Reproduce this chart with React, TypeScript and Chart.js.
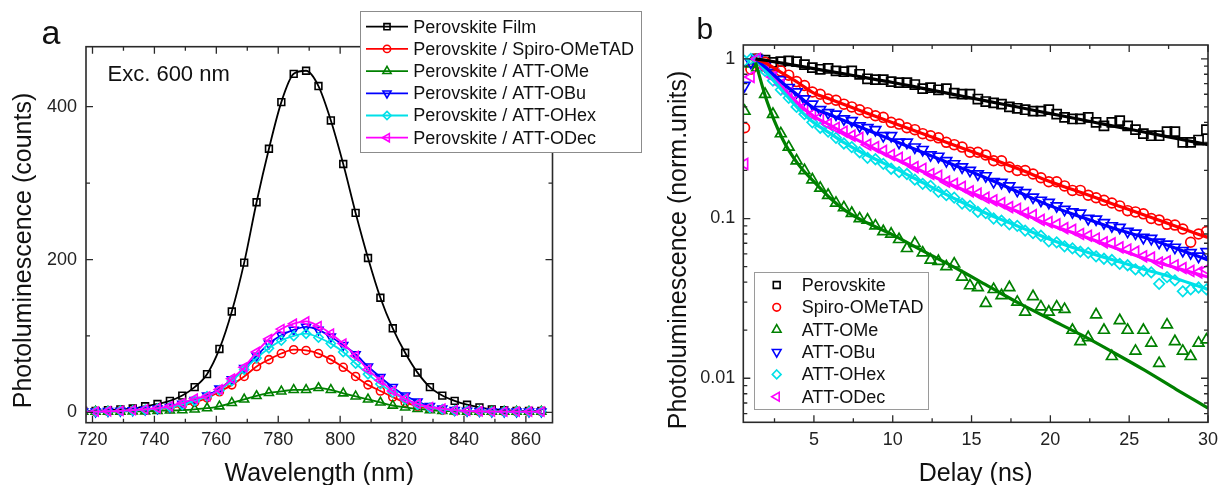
import React, { useEffect, useRef } from 'react';
import { Chart, registerables } from 'chart.js';

Chart.register(...registerables);

const FONT = '"Liberation Sans", Arial, Helvetica, sans-serif';

// ---------------- Panel a : steady-state photoluminescence ----------------
const WAVELENGTH = [717, 721, 725, 729, 733, 737, 741, 745, 749, 753, 757, 761, 765, 769, 773, 777, 781, 785, 789, 793, 797, 801, 805, 809, 813, 817, 821, 825, 829, 833, 837, 841, 845, 849, 853, 857, 861, 865];
const PL_FILM = [2, 2, 3, 4, 5, 8, 11, 15, 22, 33, 50, 83, 132, 196, 275, 345, 406, 443, 447, 427, 382, 325, 261, 202, 150, 110, 78, 52, 33, 22, 15, 10, 6.5, 4, 3, 2, 2, 2];
const PL_SPIRO = [1, 1, 1.5, 2, 2.5, 3, 4, 6, 9, 13, 19, 27, 36, 47, 60, 69, 77, 82, 81, 77, 69, 59, 47, 36, 28, 20, 13, 8, 5, 3, 2, 1.5, 1, 1, 1, 1, 1, 1];
const PL_OME = [1, 1, 1, 1, 1.5, 1.5, 2, 2.5, 3, 4, 5.5, 8, 12.5, 17, 21.5, 25.5, 27.5, 29.5, 29.5, 32, 29.5, 25, 21, 17, 13, 9, 6.6, 4.5, 3, 2, 1.5, 1, 1, 1, 1, 1, 1, 1];
const PL_OBU = [1, 1, 1.5, 2, 2.5, 3.5, 5, 7, 11, 16, 22, 31, 43, 58, 74, 90, 101, 108, 112, 108, 99, 88, 76, 60, 46, 33, 22, 14, 8, 5, 3, 2, 1.5, 1, 1, 1, 1, 1];
const PL_OHEX = [1, 1, 1.5, 2, 2.5, 3.5, 5, 7, 10, 15, 21, 29, 41, 56, 71, 84, 94, 100, 103, 98, 90, 79, 64, 50, 37, 26, 17, 10, 6, 4, 2.5, 2, 1.5, 1, 1, 1, 1, 1];
const PL_ODEC = [1, 1, 1.5, 2, 3, 4, 5.5, 8, 12, 18, 21, 30, 44, 59, 79, 96, 109, 116, 119, 113, 103, 90, 74, 56, 42, 28, 18, 11, 7, 5, 3, 2, 1.5, 1, 1, 1, 1, 1];

const A_X_TICKS = [720, 740, 760, 780, 800, 820, 840, 860];
const A_X_MINOR = [730, 750, 770, 790, 810, 830, 850];
const A_Y_TICKS = [0, 200, 400];
const A_Y_MINOR = [100, 300];

// ---------------- Panel b : time-resolved photoluminescence ----------------
const DELAY = [0.6, 1.0, 1.4, 1.9, 2.4, 2.9, 3.4, 3.9, 4.4, 4.9, 5.4, 5.9, 6.4, 6.9, 7.4, 7.9, 8.4, 8.9, 9.4, 9.9, 10.4, 10.9, 11.4, 11.9, 12.4, 12.9, 13.4, 13.9, 14.4, 14.9, 15.4, 15.9, 16.4, 16.9, 17.4, 17.9, 18.4, 18.9, 19.4, 19.9, 20.4, 20.9, 21.4, 21.9, 22.4, 22.9, 23.4, 23.9, 24.4, 24.9, 25.4, 25.9, 26.4, 26.9, 27.4, 27.9, 28.4, 28.9, 29.4, 29.9];
const TR_PEROVSKITE = [null, null, 1.0, 0.98, 0.95, 0.96, 0.97, 0.96, 0.92, 0.88, 0.86, 0.87, 0.84, 0.83, 0.84, 0.80, 0.75, 0.74, 0.74, 0.72, 0.71, 0.71, 0.69, 0.65, 0.66, 0.64, 0.65, 0.61, 0.60, 0.60, 0.56, 0.54, 0.53, 0.52, 0.50, 0.49, 0.48, 0.47, 0.47, 0.48, 0.45, 0.43, 0.42, 0.42, 0.43, 0.40, 0.38, 0.40, 0.41, 0.38, 0.36, 0.34, 0.33, 0.33, 0.35, 0.35, 0.30, 0.30, 0.31, 0.36];
const TR_SPIRO = [0.37, 0.86, 1.0, 0.95, 0.90, 0.84, 0.79, 0.72, 0.68, 0.62, 0.60, 0.56, 0.55, 0.52, 0.50, 0.48, 0.46, 0.44, 0.43, 0.40, 0.39, 0.37, 0.36, 0.34, 0.33, 0.32, 0.30, 0.29, 0.28, 0.26, 0.26, 0.25, 0.23, 0.23, 0.21, 0.20, 0.20, 0.19, 0.18, 0.17, 0.17, 0.16, 0.15, 0.15, 0.14, 0.135, 0.13, 0.125, 0.12, 0.112, 0.11, 0.107, 0.10, 0.098, 0.092, 0.091, 0.086, 0.071, 0.08, 0.083];
const TR_OME = [0.47, 0.93, 0.88, 0.60, 0.45, 0.34, 0.28, 0.23, 0.20, 0.175, 0.155, 0.14, 0.125, 0.117, 0.108, 0.10, 0.098, 0.09, 0.083, 0.080, 0.074, 0.065, 0.070, 0.061, 0.055, 0.054, 0.050, 0.052, 0.043, 0.038, 0.037, 0.0295, 0.036, 0.033, 0.037, 0.030, 0.026, 0.0325, 0.028, 0.026, 0.028, 0.027, 0.020, 0.017, 0.018, 0.025, 0.020, 0.0137, 0.023, 0.020, 0.0148, 0.020, 0.0166, 0.0124, 0.0216, 0.017, 0.0148, 0.0137, 0.0166, 0.0174];
const TR_OBU = [0.68, 0.95, 1.0, 0.90, 0.82, 0.74, 0.66, 0.62, 0.56, 0.52, 0.48, 0.46, 0.45, 0.42, 0.41, 0.38, 0.37, 0.36, 0.33, 0.33, 0.30, 0.30, 0.28, 0.27, 0.25, 0.245, 0.23, 0.22, 0.21, 0.20, 0.19, 0.185, 0.17, 0.168, 0.16, 0.15, 0.145, 0.136, 0.13, 0.126, 0.12, 0.114, 0.11, 0.108, 0.10, 0.099, 0.094, 0.09, 0.088, 0.083, 0.081, 0.076, 0.075, 0.071, 0.069, 0.066, 0.063, 0.061, 0.058, 0.062];
const TR_OHEX = [0.97, 1.0, 0.99, 0.84, 0.73, 0.64, 0.57, 0.50, 0.45, 0.40, 0.37, 0.35, 0.32, 0.295, 0.28, 0.26, 0.24, 0.235, 0.22, 0.205, 0.195, 0.19, 0.175, 0.165, 0.16, 0.147, 0.14, 0.135, 0.124, 0.12, 0.11, 0.108, 0.10, 0.097, 0.092, 0.09, 0.084, 0.081, 0.078, 0.072, 0.071, 0.067, 0.065, 0.062, 0.061, 0.058, 0.056, 0.055, 0.052, 0.051, 0.048, 0.047, 0.046, 0.039, 0.043, 0.041, 0.035, 0.036, 0.037, 0.036];
const TR_ODEC = [0.22, 0.77, 1.0, 0.88, 0.77, 0.69, 0.61, 0.55, 0.50, 0.45, 0.43, 0.39, 0.37, 0.35, 0.33, 0.32, 0.29, 0.28, 0.265, 0.25, 0.24, 0.225, 0.21, 0.205, 0.19, 0.185, 0.17, 0.165, 0.158, 0.148, 0.143, 0.135, 0.13, 0.125, 0.118, 0.115, 0.108, 0.105, 0.098, 0.095, 0.092, 0.087, 0.085, 0.08, 0.078, 0.075, 0.071, 0.07, 0.066, 0.064, 0.062, 0.058, 0.057, 0.053, 0.054, 0.051, 0.049, 0.047, 0.046, 0.048];

const FIT_DELAY = [1.3, 2, 3, 4, 5, 6, 7, 8, 10, 12, 14, 16, 18, 20, 22, 24, 26, 28, 30];
const FIT_PEROVSKITE = [1, 0.976, 0.939, 0.902, 0.867, 0.834, 0.801, 0.77, 0.711, 0.65, 0.594, 0.543, 0.497, 0.454, 0.415, 0.379, 0.347, 0.317, 0.29];
const FIT_SPIRO = [1, 0.933, 0.813, 0.708, 0.61, 0.56, 0.513, 0.471, 0.398, 0.337, 0.286, 0.242, 0.204, 0.17, 0.145, 0.123, 0.105, 0.089, 0.076];
const FIT_OME = [0.95, 0.55, 0.316, 0.219, 0.17, 0.135, 0.112, 0.098, 0.079, 0.062, 0.049, 0.038, 0.0295, 0.0234, 0.0186, 0.0145, 0.0112, 0.0085, 0.0065];
const FIT_OBU = [1, 0.871, 0.708, 0.589, 0.49, 0.447, 0.407, 0.372, 0.309, 0.257, 0.214, 0.178, 0.146, 0.12, 0.102, 0.087, 0.076, 0.065, 0.055];
const FIT_OHEX = [1, 0.822, 0.631, 0.49, 0.398, 0.343, 0.295, 0.26, 0.209, 0.166, 0.132, 0.107, 0.089, 0.074, 0.063, 0.055, 0.048, 0.042, 0.036];
const FIT_ODEC = [1, 0.841, 0.661, 0.525, 0.437, 0.385, 0.339, 0.302, 0.24, 0.195, 0.158, 0.132, 0.11, 0.091, 0.078, 0.066, 0.056, 0.049, 0.043];

const B_X_TICKS = [5, 10, 15, 20, 25, 30];
const B_X_MINOR = [2.5, 7.5, 12.5, 17.5, 22.5, 27.5];
const B_Y_TICKS = [0.01, 0.1, 1];
const B_Y_MINOR = [0.006, 0.007, 0.008, 0.009, 0.02, 0.03, 0.04, 0.05, 0.06, 0.07, 0.08, 0.09, 0.2, 0.3, 0.4, 0.5, 0.6, 0.7, 0.8, 0.9];

// ---------------- names & styles ----------------
const LEGEND_A = ['Perovskite Film', 'Perovskite / Spiro-OMeTAD', 'Perovskite / ATT-OMe', 'Perovskite / ATT-OBu', 'Perovskite / ATT-OHex', 'Perovskite / ATT-ODec'];
const LEGEND_B = ['Perovskite', 'Spiro-OMeTAD', 'ATT-OMe', 'ATT-OBu', 'ATT-OHex', 'ATT-ODec'];
const COLORS = ['#000000', '#ff0000', '#008000', '#0000ff', '#00e0e8', '#ff00ff'];
const POINT_STYLES = ['rect', 'circle', 'triangle', 'triangle', 'rectRot', 'triangle'];
const POINT_ROT = [0, 0, 0, 180, 0, 270];
const A_RADIUS = [4.8, 4, 5.2, 5.2, 4.6, 5.2];
const B_RADIUS = [6.4, 4.9, 6.2, 6.2, 5.2, 6.2];
const B_LEG_RADIUS = [4.8, 3.8, 5, 5, 4.4, 5];

const A_SERIES = [PL_FILM, PL_SPIRO, PL_OME, PL_OBU, PL_OHEX, PL_ODEC];
const B_SERIES = [TR_PEROVSKITE, TR_SPIRO, TR_OME, TR_OBU, TR_OHEX, TR_ODEC];
const B_FITS = [FIT_PEROVSKITE, FIT_SPIRO, FIT_OME, FIT_OBU, FIT_OHEX, FIT_ODEC];

function drawMarker(ctx: CanvasRenderingContext2D, style: string, rot: number, x: number, y: number, r: number, color: string, lw: number) {
  ctx.save();
  ctx.strokeStyle = color;
  ctx.lineWidth = lw;
  ctx.beginPath();
  if (style === 'rect') {
    const s = r * Math.SQRT1_2;
    ctx.rect(x - s, y - s, 2 * s, 2 * s);
  } else if (style === 'circle') {
    ctx.arc(x, y, r, 0, Math.PI * 2);
  } else if (style === 'rectRot') {
    ctx.moveTo(x, y - r);
    ctx.lineTo(x + r, y);
    ctx.lineTo(x, y + r);
    ctx.lineTo(x - r, y);
    ctx.closePath();
  } else {
    let a = (rot * Math.PI) / 180;
    ctx.moveTo(x + Math.sin(a) * r, y - Math.cos(a) * r);
    a += (2 * Math.PI) / 3;
    ctx.lineTo(x + Math.sin(a) * r, y - Math.cos(a) * r);
    a += (2 * Math.PI) / 3;
    ctx.lineTo(x + Math.sin(a) * r, y - Math.cos(a) * r);
    ctx.closePath();
  }
  ctx.stroke();
  ctx.restore();
}

function frameTicksPlugin(xMaj: number[], xMin: number[], yMaj: number[], yMin: number[]) {
  return {
    id: 'frameTicks',
    afterDatasetsDraw(chart: any) {
      const { ctx, chartArea: a } = chart;
      const xs = chart.scales.x;
      const ys = chart.scales.y;
      ctx.save();
      ctx.strokeStyle = '#2a2a2a';
      ctx.lineWidth = 1.3;
      ctx.beginPath();
      const xt = (vals: number[], len: number) => {
        for (const v of vals) {
          const p = xs.getPixelForValue(v);
          if (p < a.left - 0.5 || p > a.right + 0.5) continue;
          ctx.moveTo(p, a.bottom);
          ctx.lineTo(p, a.bottom - len);
          ctx.moveTo(p, a.top);
          ctx.lineTo(p, a.top + len);
        }
      };
      const yt = (vals: number[], len: number) => {
        for (const v of vals) {
          const p = ys.getPixelForValue(v);
          if (p < a.top - 0.5 || p > a.bottom + 0.5) continue;
          ctx.moveTo(a.left, p);
          ctx.lineTo(a.left + len, p);
          ctx.moveTo(a.right, p);
          ctx.lineTo(a.right - len, p);
        }
      };
      xt(xMaj, 7);
      xt(xMin, 4);
      yt(yMaj, 7);
      yt(yMin, 4);
      ctx.stroke();
      ctx.lineWidth = 1.6;
      ctx.strokeRect(a.left, a.top, a.right - a.left, a.bottom - a.top);
      ctx.restore();
    },
  };
}

const decoA = {
  id: 'decoA',
  afterDraw(chart: any) {
    const { ctx, chartArea: a } = chart;
    ctx.save();
    ctx.fillStyle = '#111';
    ctx.textBaseline = 'alphabetic';
    ctx.textAlign = 'center';
    ctx.font = `25px ${FONT}`;
    ctx.fillText('Wavelength (nm)', (a.left + a.right) / 2, 481);
    ctx.save();
    ctx.translate(31, 250.5);
    ctx.rotate(-Math.PI / 2);
    ctx.fillText('Photoluminescence (counts)', 0, 0);
    ctx.restore();
    ctx.textAlign = 'left';
    ctx.font = `34px ${FONT}`;
    ctx.fillText('a', 41.5, 43.5);
    ctx.font = `22px ${FONT}`;
    ctx.fillText('Exc. 600 nm', 107.5, 81);
    // legend
    ctx.fillStyle = '#ffffff';
    ctx.fillRect(360.5, 11.5, 281, 141);
    ctx.strokeStyle = '#8c8c8c';
    ctx.lineWidth = 1;
    ctx.strokeRect(360.5, 11.5, 281, 141);
    ctx.font = `18px ${FONT}`;
    ctx.textBaseline = 'middle';
    for (let i = 0; i < LEGEND_A.length; i++) {
      const y = 26.7 + i * 22.2;
      ctx.strokeStyle = COLORS[i];
      ctx.lineWidth = 1.8;
      ctx.beginPath();
      ctx.moveTo(366, y);
      ctx.lineTo(408, y);
      ctx.stroke();
      drawMarker(ctx, POINT_STYLES[i], POINT_ROT[i], 387, y, A_RADIUS[i] * 0.9, COLORS[i], 1.6);
      ctx.fillStyle = '#111';
      ctx.fillText(LEGEND_A[i], 413.3, y + 1);
    }
    ctx.restore();
  },
};

const decoB = {
  id: 'decoB',
  afterDraw(chart: any) {
    const { ctx, chartArea: a } = chart;
    ctx.save();
    ctx.fillStyle = '#111';
    ctx.textBaseline = 'alphabetic';
    ctx.textAlign = 'center';
    ctx.font = `25px ${FONT}`;
    ctx.fillText('Delay (ns)', (a.left + a.right) / 2, 481);
    ctx.save();
    ctx.translate(46, 250);
    ctx.rotate(-Math.PI / 2);
    ctx.fillText('Photoluminescence (norm.units)', 0, 0);
    ctx.restore();
    ctx.textAlign = 'left';
    ctx.font = `30px ${FONT}`;
    ctx.fillText('b', 56.5, 38.5);
    // legend
    ctx.fillStyle = '#ffffff';
    ctx.fillRect(114.5, 272.5, 174, 137);
    ctx.strokeStyle = '#9a9a9a';
    ctx.lineWidth = 1;
    ctx.strokeRect(114.5, 272.5, 174, 137);
    ctx.font = `18px ${FONT}`;
    ctx.textBaseline = 'middle';
    for (let i = 0; i < LEGEND_B.length; i++) {
      const y = 285 + i * 22.35;
      drawMarker(ctx, POINT_STYLES[i], POINT_ROT[i], 136.7, y, B_LEG_RADIUS[i], COLORS[i], 1.6);
      ctx.fillStyle = '#111';
      ctx.fillText(LEGEND_B[i], 161.7, y + 1);
    }
    ctx.restore();
  },
};

function tickFont() {
  return { family: FONT, size: 18 };
}

function makeConfigA(): any {
  const datasets = A_SERIES.map((vals, i) => ({
    label: LEGEND_A[i],
    data: WAVELENGTH.map((w, k) => ({ x: w, y: vals[k] })),
    borderColor: COLORS[i],
    backgroundColor: 'rgba(0,0,0,0)',
    borderWidth: 1.8,
    pointStyle: POINT_STYLES[i],
    pointRotation: POINT_ROT[i],
    pointRadius: A_RADIUS[i],
    pointBorderWidth: 1.6,
    pointBorderColor: COLORS[i],
    pointBackgroundColor: 'rgba(0,0,0,0)',
    cubicInterpolationMode: 'monotone',
    order: 10 - i,
  }));
  return {
    type: 'line',
    data: { datasets },
    options: {
      responsive: false,
      animation: false,
      devicePixelRatio: 1,
      events: [],
      layout: { padding: { left: 0, top: 46.7, right: 660 - 552.5, bottom: 0 } },
      plugins: { legend: { display: false }, tooltip: { enabled: false } },
      scales: {
        x: {
          type: 'linear',
          min: 717.9,
          max: 868.6,
          grid: { display: false, drawTicks: false },
          border: { display: false },
          ticks: { font: tickFont(), color: '#222', padding: 7, maxRotation: 0, autoSkip: false, callback: (v: any) => String(v) },
          afterBuildTicks: (s: any) => { s.ticks = A_X_TICKS.map((value) => ({ value })); },
          afterFit: (s: any) => { s.height = 485 - 422.7; s.paddingLeft = 0; s.paddingRight = 0; },
        },
        y: {
          type: 'linear',
          min: -13.5,
          max: 478.5,
          grid: { display: false, drawTicks: false },
          border: { display: false },
          ticks: { font: tickFont(), color: '#222', padding: 9, autoSkip: false, callback: (v: any) => String(v) },
          afterBuildTicks: (s: any) => { s.ticks = A_Y_TICKS.map((value) => ({ value })); },
          afterFit: (s: any) => { s.width = 86; s.paddingTop = 0; s.paddingBottom = 0; },
        },
      },
    },
    plugins: [frameTicksPlugin(A_X_TICKS, A_X_MINOR, A_Y_TICKS, A_Y_MINOR), decoA],
  };
}

function makeConfigB(): any {
  const fits = B_FITS.map((vals, i) => ({
    label: LEGEND_B[i] + ' fit',
    data: FIT_DELAY.map((t, k) => ({ x: t, y: vals[k] })),
    borderColor: COLORS[i],
    backgroundColor: 'rgba(0,0,0,0)',
    borderWidth: 3.2,
    pointRadius: 0,
    cubicInterpolationMode: 'monotone',
    order: i,
  }));
  const points = B_SERIES.map((vals, i) => ({
    label: LEGEND_B[i],
    data: DELAY.map((t, k) => ({ x: t, y: vals[k] })),
    showLine: false,
    borderColor: COLORS[i],
    backgroundColor: 'rgba(0,0,0,0)',
    pointStyle: POINT_STYLES[i],
    pointRotation: POINT_ROT[i],
    pointRadius: B_RADIUS[i],
    pointBorderWidth: 1.7,
    pointBorderColor: COLORS[i],
    pointBackgroundColor: 'rgba(0,0,0,0)',
    order: 20 - i,
  }));
  return {
    type: 'line',
    data: { datasets: [...fits, ...points] },
    options: {
      responsive: false,
      animation: false,
      devicePixelRatio: 1,
      events: [],
      layout: { padding: { left: 0, top: 45, right: 578 - 568, bottom: 0 } },
      plugins: { legend: { display: false }, tooltip: { enabled: false } },
      scales: {
        x: {
          type: 'linear',
          min: 0.52,
          max: 30,
          grid: { display: false, drawTicks: false },
          border: { display: false },
          ticks: { font: tickFont(), color: '#222', padding: 7, maxRotation: 0, autoSkip: false, callback: (v: any) => String(v) },
          afterBuildTicks: (s: any) => { s.ticks = B_X_TICKS.map((value) => ({ value })); },
          afterFit: (s: any) => { s.height = 485 - 422.3; s.paddingLeft = 0; s.paddingRight = 0; },
        },
        y: {
          type: 'logarithmic',
          min: 0.0053,
          max: 1.22,
          grid: { display: false, drawTicks: false },
          border: { display: false },
          ticks: { font: tickFont(), color: '#222', padding: 8, autoSkip: false, callback: (v: any) => String(v) },
          afterBuildTicks: (s: any) => { s.ticks = B_Y_TICKS.map((value) => ({ value })); },
          afterFit: (s: any) => { s.width = 103.3; s.paddingTop = 0; s.paddingBottom = 0; },
        },
      },
    },
    plugins: [frameTicksPlugin(B_X_TICKS, B_X_MINOR, B_Y_TICKS, B_Y_MINOR), decoB],
  };
}

export default function App() {
  const refA = useRef<HTMLCanvasElement>(null);
  const refB = useRef<HTMLCanvasElement>(null);
  useEffect(() => {
    Chart.defaults.font.family = FONT;
    const ca = new Chart(refA.current as HTMLCanvasElement, makeConfigA());
    const cb = new Chart(refB.current as HTMLCanvasElement, makeConfigB());
    return () => {
      ca.destroy();
      cb.destroy();
    };
  }, []);
  return (
    <div style={{ position: 'absolute', left: 0, top: 0, width: 1218, height: 485, background: '#ffffff', overflow: 'hidden' }}>
      <canvas ref={refA} width={660} height={485} style={{ position: 'absolute', left: 0, top: 0, width: 660, height: 485 }} />
      <canvas ref={refB} width={578} height={485} style={{ position: 'absolute', left: 640, top: 0, width: 578, height: 485 }} />
    </div>
  );
}
